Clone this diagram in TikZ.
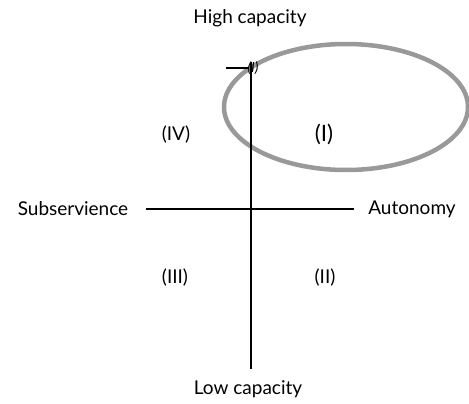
\documentclass[tikz,border=0pt]{standalone}
\usepackage{fontspec}
\setmainfont{Lato}
\usepackage{tikz}
\usetikzlibrary{positioning}

\begin{document}
\begin{tikzpicture}[x=1pt, y=-1pt, thick, every node/.style={font=\fontsize{19}{22}\selectfont}]
        \useasboundingbox (0,0) rectangle (469,404);
        % Highlight
        \draw[line width=4.5pt, draw=black!40] (346, 107) ellipse [x radius=122, y radius=63];

        % Nodes
        \node (high) at (250, 18) {High capacity};
        \node (low) at (248, 389) {Low capacity};
        \node (sub) at (73, 209) {Subservience};
        \node (aut) at (412, 209) {Autonomy};
        \node (q1) at (324, 134) {\fontsize{22.5}{26}\selectfont (I)};
        \node (q2) at (325, 278) {(II)};
        \node (q3) at (175, 278) {(III)};
        \node (q4) at (176, 135) {(IV)};
        \node[inner sep=0pt] (tiny) at (253, 68) {\fontsize{14}{16}\selectfont\itshape (I)};

        % Axis ends
        \coordinate (top) at (251, 62);
        \coordinate (bot) at (251, 369);
        \coordinate (left) at (146, 209);
        \coordinate (right) at (354, 209);
        \coordinate (tickl) at (226, 68);
        \coordinate (tickr) at (249, 68);

        % Axes
        \draw[line width=1.3pt] (top) -- (bot);
        \draw[line width=1.3pt] (left) -- (right);
        \draw[line width=1.3pt] (tickl) -- (tickr);
    \end{tikzpicture}
\end{document}
